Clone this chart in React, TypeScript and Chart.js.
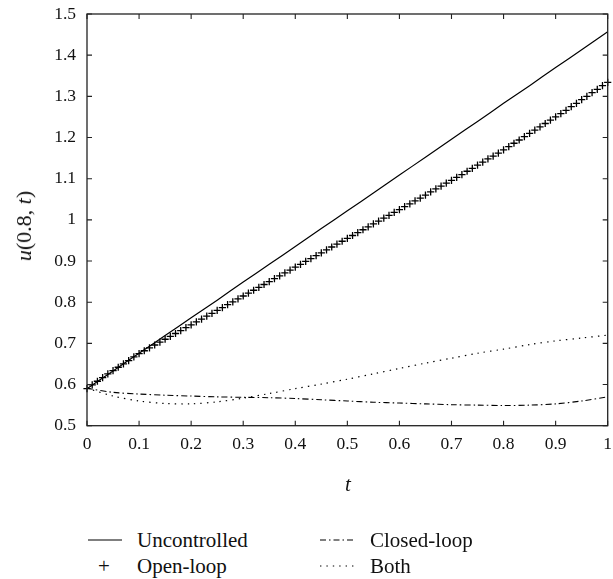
import React, { useEffect, useRef } from "react";
import { Chart, registerables } from "chart.js";

Chart.register(...registerables);

// ---- data ----
const tCurve = [0, 0.05, 0.1, 0.15, 0.2, 0.25, 0.3, 0.35, 0.4, 0.45, 0.5, 0.55, 0.6, 0.65, 0.7, 0.75, 0.8, 0.85, 0.9, 0.95, 1];
const uncontrolled = [0.590, 0.633, 0.676, 0.719, 0.762, 0.805, 0.849, 0.892, 0.935, 0.979, 1.022, 1.065, 1.109, 1.152, 1.196, 1.239, 1.283, 1.326, 1.370, 1.413, 1.457];
const closedLoop = [0.591, 0.581, 0.577, 0.574, 0.572, 0.570, 0.569, 0.568, 0.566, 0.563, 0.560, 0.557, 0.555, 0.553, 0.551, 0.550, 0.549, 0.550, 0.553, 0.560, 0.570];
const both = [0.591, 0.572, 0.560, 0.554, 0.553, 0.558, 0.567, 0.578, 0.590, 0.601, 0.613, 0.626, 0.639, 0.652, 0.664, 0.676, 0.686, 0.697, 0.706, 0.713, 0.720];

const tOpen = [
  0, 0.01, 0.02, 0.03, 0.04, 0.05, 0.06, 0.07, 0.08, 0.09,
  0.1, 0.11, 0.12, 0.13, 0.14, 0.15, 0.16, 0.17, 0.18, 0.19,
  0.2, 0.21, 0.22, 0.23, 0.24, 0.25, 0.26, 0.27, 0.28, 0.29,
  0.3, 0.31, 0.32, 0.33, 0.34, 0.35, 0.36, 0.37, 0.38, 0.39,
  0.4, 0.41, 0.42, 0.43, 0.44, 0.45, 0.46, 0.47, 0.48, 0.49,
  0.5, 0.51, 0.52, 0.53, 0.54, 0.55, 0.56, 0.57, 0.58, 0.59,
  0.6, 0.61, 0.62, 0.63, 0.64, 0.65, 0.66, 0.67, 0.68, 0.69,
  0.7, 0.71, 0.72, 0.73, 0.74, 0.75, 0.76, 0.77, 0.78, 0.79,
  0.8, 0.81, 0.82, 0.83, 0.84, 0.85, 0.86, 0.87, 0.88, 0.89,
  0.9, 0.91, 0.92, 0.93, 0.94, 0.95, 0.96, 0.97, 0.98, 0.99,
  1,
];
const openLoop = [
  0.590, 0.599, 0.608, 0.617, 0.626, 0.634, 0.642, 0.650, 0.658, 0.667,
  0.675, 0.682, 0.689, 0.696, 0.703, 0.710, 0.717, 0.724, 0.731, 0.738,
  0.745, 0.752, 0.759, 0.766, 0.773, 0.780, 0.787, 0.794, 0.801, 0.808,
  0.815, 0.822, 0.829, 0.836, 0.843, 0.850, 0.857, 0.864, 0.871, 0.878,
  0.885, 0.892, 0.899, 0.906, 0.913, 0.920, 0.927, 0.934, 0.941, 0.948,
  0.955, 0.962, 0.969, 0.976, 0.983, 0.990, 0.997, 1.004, 1.011, 1.018,
  1.025, 1.032, 1.039, 1.046, 1.053, 1.060, 1.068, 1.075, 1.082, 1.089,
  1.096, 1.103, 1.110, 1.118, 1.125, 1.133, 1.140, 1.148, 1.155, 1.162,
  1.170, 1.178, 1.186, 1.194, 1.202, 1.210, 1.218, 1.226, 1.234, 1.242,
  1.250, 1.258, 1.266, 1.275, 1.283, 1.292, 1.300, 1.309, 1.317, 1.326,
  1.334,
];

const xTickLabels = ["0", "0.1", "0.2", "0.3", "0.4", "0.5", "0.6", "0.7", "0.8", "0.9", "1"];
const yTickLabels = ["0.5", "0.6", "0.7", "0.8", "0.9", "1", "1.1", "1.2", "1.3", "1.4", "1.5"];
const seriesNames = ["Uncontrolled", "Open-loop", "Closed-loop", "Both"];

const SERIF = "'Liberation Serif', 'DejaVu Serif', serif";

const framePlugin = {
  id: "frameTicks",
  afterDraw(chart: any) {
    const { ctx, chartArea: a, scales } = chart;
    ctx.save();
    ctx.strokeStyle = "#222";
    ctx.lineWidth = 1.3;
    ctx.setLineDash([]);
    ctx.strokeRect(a.left, a.top, a.right - a.left, a.bottom - a.top);
    const L = 5;
    ctx.lineWidth = 1.1;
    ctx.beginPath();
    scales.x.ticks.forEach((t: any) => {
      const px = scales.x.getPixelForValue(t.value);
      ctx.moveTo(px, a.bottom);
      ctx.lineTo(px, a.bottom - L);
      ctx.moveTo(px, a.top);
      ctx.lineTo(px, a.top + L);
    });
    scales.y.ticks.forEach((t: any) => {
      const py = scales.y.getPixelForValue(t.value);
      ctx.moveTo(a.left, py);
      ctx.lineTo(a.left + L, py);
      ctx.moveTo(a.right, py);
      ctx.lineTo(a.right - L, py);
    });
    ctx.stroke();
    ctx.restore();
  },
};

function pts(xs: number[], ys: number[]) {
  return xs.map((x, i) => ({ x, y: ys[i] }));
}

export default function App() {
  const ref = useRef<HTMLCanvasElement | null>(null);

  useEffect(() => {
    if (!ref.current) return;
    const chart = new Chart(ref.current, {
      type: "line",
      data: {
        datasets: [
          {
            label: seriesNames[0],
            data: pts(tCurve, uncontrolled),
            borderColor: "#000",
            borderWidth: 1.2,
            pointRadius: 0,
            tension: 0.2,
          },
          {
            label: seriesNames[1],
            data: pts(tOpen, openLoop),
            showLine: false,
            pointStyle: "cross",
            pointRadius: 3.6,
            pointBorderWidth: 1.3,
            borderColor: "#000",
            backgroundColor: "#000",
            clip: false as any,
          },
          {
            label: seriesNames[2],
            data: pts(tCurve, closedLoop),
            borderColor: "#000",
            borderWidth: 1.1,
            borderDash: [6, 3, 1.5, 3],
            pointRadius: 0,
            tension: 0.3,
          },
          {
            label: seriesNames[3],
            data: pts(tCurve, both),
            borderColor: "#000",
            borderWidth: 1.2,
            borderDash: [1.4, 5],
            pointRadius: 0,
            tension: 0.3,
          },
        ],
      },
      options: {
        animation: false,
        responsive: true,
        maintainAspectRatio: false,
        layout: { padding: { top: 14, right: 5, left: 0, bottom: 0 } },
        plugins: { legend: { display: false }, tooltip: { enabled: false } },
        scales: {
          x: {
            type: "linear",
            min: 0,
            max: 1,
            grid: { display: false, drawTicks: false },
            border: { display: false },
            afterFit: (s: any) => {
              s.height = 82.3;
              s.paddingLeft = 0;
              s.paddingRight = 0;
            },
            ticks: {
              stepSize: 0.1,
              autoSkip: false,
              maxRotation: 0,
              padding: 8,
              color: "#111",
              font: { family: SERIF, size: 17.5 },
              callback: (_v: any, i: number) => xTickLabels[i],
            },
          },
          y: {
            type: "linear",
            min: 0.5,
            max: 1.5,
            grid: { display: false, drawTicks: false },
            border: { display: false },
            afterFit: (s: any) => {
              s.width = 79;
              s.paddingTop = 0;
              s.paddingBottom = 0;
            },
            ticks: {
              stepSize: 0.1,
              autoSkip: false,
              padding: 11,
              color: "#111",
              font: { family: SERIF, size: 17.5 },
              callback: (_v: any, i: number) => yTickLabels[i],
            },
          },
        },
      },
      plugins: [framePlugin],
    });
    return () => chart.destroy();
  }, []);

  const textStyle: React.CSSProperties = {
    position: "absolute",
    fontFamily: SERIF,
    fontSize: 21,
    color: "#111",
    whiteSpace: "nowrap",
    lineHeight: "24px",
  };

  // page-coordinate layout (fixed full-viewport frame)
  return (
    <div style={{ position: "fixed", left: 0, top: 0, width: 613, height: 579, overflow: "hidden", background: "#fff" }}>
      <div style={{ position: "absolute", left: 8, top: 0, width: 605, height: 508 }}>
        <canvas ref={ref} />
      </div>
      {/* y axis title */}
      <div
        style={{
          ...textStyle,
          fontSize: 22,
          left: 24,
          top: 226,
          transform: "translate(-50%, -50%) rotate(-90deg)",
        }}
      >
        <i>u</i>(0.8, <i>t</i>)
      </div>
      {/* x axis title */}
      <div style={{ ...textStyle, left: 348, top: 484, transform: "translate(-50%, -50%)" }}>
        <i>t</i>
      </div>
      {/* legend */}
      <svg width={613} height={60} style={{ position: "absolute", left: 0, top: 513 }}>
        <line x1={88} x2={122} y1={27} y2={27} stroke="#000" strokeWidth={1.2} />
        <line x1={320} x2={355} y1={27} y2={27} stroke="#000" strokeWidth={1.1} strokeDasharray="6 3 1.5 3" />
        <line x1={320} x2={355} y1={53} y2={53} stroke="#000" strokeWidth={1.2} strokeDasharray="1.4 5" />
      </svg>
      <div style={{ ...textStyle, left: 104, top: 566, transform: "translate(-50%, -50%)" }}>+</div>
      <div style={{ ...textStyle, left: 137, top: 540, transform: "translateY(-50%)" }}>{seriesNames[0]}</div>
      <div style={{ ...textStyle, left: 137, top: 566, transform: "translateY(-50%)" }}>{seriesNames[1]}</div>
      <div style={{ ...textStyle, left: 370, top: 540, transform: "translateY(-50%)" }}>{seriesNames[2]}</div>
      <div style={{ ...textStyle, left: 370, top: 566, transform: "translateY(-50%)" }}>{seriesNames[3]}</div>
    </div>
  );
}
